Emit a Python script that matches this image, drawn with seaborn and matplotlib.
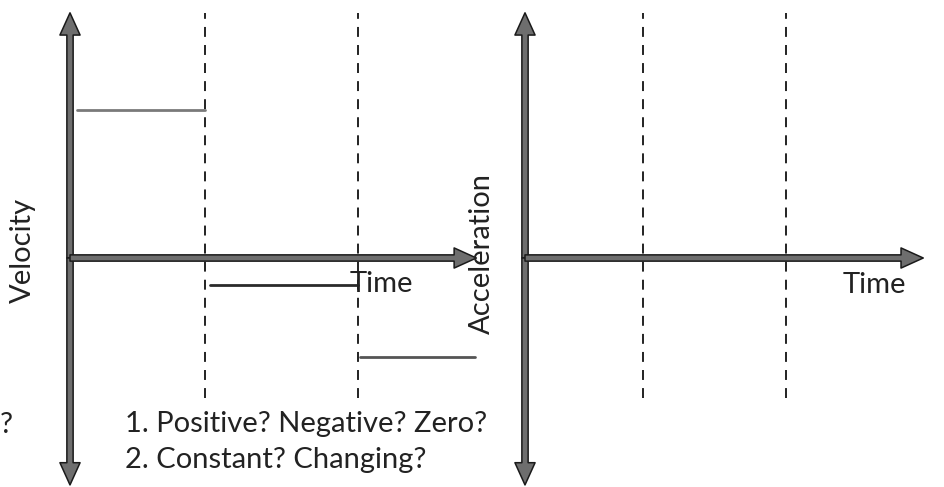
import pandas as pd
import matplotlib.pyplot as plt
from matplotlib.patches import FancyArrowPatch
import seaborn as sns

# velocity graph: three constant pieces
seg_start = [0.05, 1.04, 2.15]
seg_end = [1.0, 2.13, 3.0]
velocity = [3.0, -0.55, -2.0]

# time marks (dashed lines)
vel_marks = [1.0, 2.13]
acc_marks = [0.874, 1.933]

questions = ["1. Positive? Negative? Zero?", "2. Constant? Changing?"]

sns.set_theme(style="white")
plt.rcParams["font.family"] = ["Lato", "DejaVu Sans"]

W, H = 944, 487
fig = plt.figure(figsize=(W / 100, H / 100), dpi=100)

px_t = 135.0   # pixels per time unit
px_v = 49.33   # pixels per velocity unit
ylim = (-4.65, 5.0)
xlim = (0, 3.1)
FS = 21
TXT = "#222222"


def make_ax(x0, y0):
    # x0 = pixel of t=0, y0 = pixel of v=0 (from top)
    left = x0 / W
    width = (xlim[1] - xlim[0]) * px_t / W
    top_px = y0 - ylim[1] * px_v
    bot_px = y0 - ylim[0] * px_v
    ax = fig.add_axes([left, 1 - bot_px / H, width, (bot_px - top_px) / H])
    ax.set_xlim(*xlim)
    ax.set_ylim(*ylim)
    ax.axis("off")
    return ax


def arrow(ax, p0, p1):
    a = FancyArrowPatch(p0, p1, arrowstyle="simple,head_length=1.6,head_width=1.45,tail_width=0.45",
                        mutation_scale=10, shrinkA=0, shrinkB=0,
                        facecolor="#6e6e6e", edgecolor="#1a1a1a", lw=1.1,
                        clip_on=False, zorder=5)
    ax.add_patch(a)


def axes_arrows(ax, t_tip):
    arrow(ax, (0, 0), (0, 4.97))
    arrow(ax, (0, 0), (0, -4.6))
    arrow(ax, (0, 0), (t_tip, 0))


dash = (0, (5.5, 4.5))

# left: velocity vs time
ax1 = make_ax(70, 258)
ax1.vlines(vel_marks, -2.84, 4.97, colors="#111111", linestyles=[dash], lw=1.3)
rows = []
for i, (a, b, v) in enumerate(zip(seg_start, seg_end, velocity)):
    rows.append({"seg": i, "t": a, "v": v})
    rows.append({"seg": i, "t": b, "v": v})
df = pd.DataFrame(rows)
sns.lineplot(data=df, x="t", y="v", hue="seg", estimator=None,
             palette=["#7a7a7a", "#2a2a2a", "#555555"], lw=2, legend=False, ax=ax1)
ax1.axis("off")
axes_arrows(ax1, 3.01)
ax1.text(2.07, -0.53, "Time", ha="left", va="center", fontsize=FS, color=TXT)

# right: acceleration vs time (blank)
ax2 = make_ax(525, 258)
ax2.vlines(acc_marks, -2.84, 4.97, colors="#111111", linestyles=[dash], lw=1.3)
axes_arrows(ax2, 2.95)
ax2.text(2.35, -0.55, "Time", ha="left", va="center", fontsize=FS, color=TXT)

fig.text(23 / W, 1 - 250 / H, "Velocity", rotation=90, ha="center", va="center",
         fontsize=FS, color=TXT)
fig.text(482 / W, 1 - 253 / H, "Acceleration", rotation=90, ha="center", va="center",
         fontsize=FS, color=TXT)
fig.text(0 / W, 1 - 433 / H, "?", ha="left", va="baseline", fontsize=FS, color=TXT)
fig.text(125 / W, 1 - 432 / H, questions[0], ha="left", va="baseline", fontsize=FS, color=TXT)
fig.text(125 / W, 1 - 468 / H, questions[1], ha="left", va="baseline", fontsize=FS, color=TXT)

fig.savefig("out.png", dpi=100)
